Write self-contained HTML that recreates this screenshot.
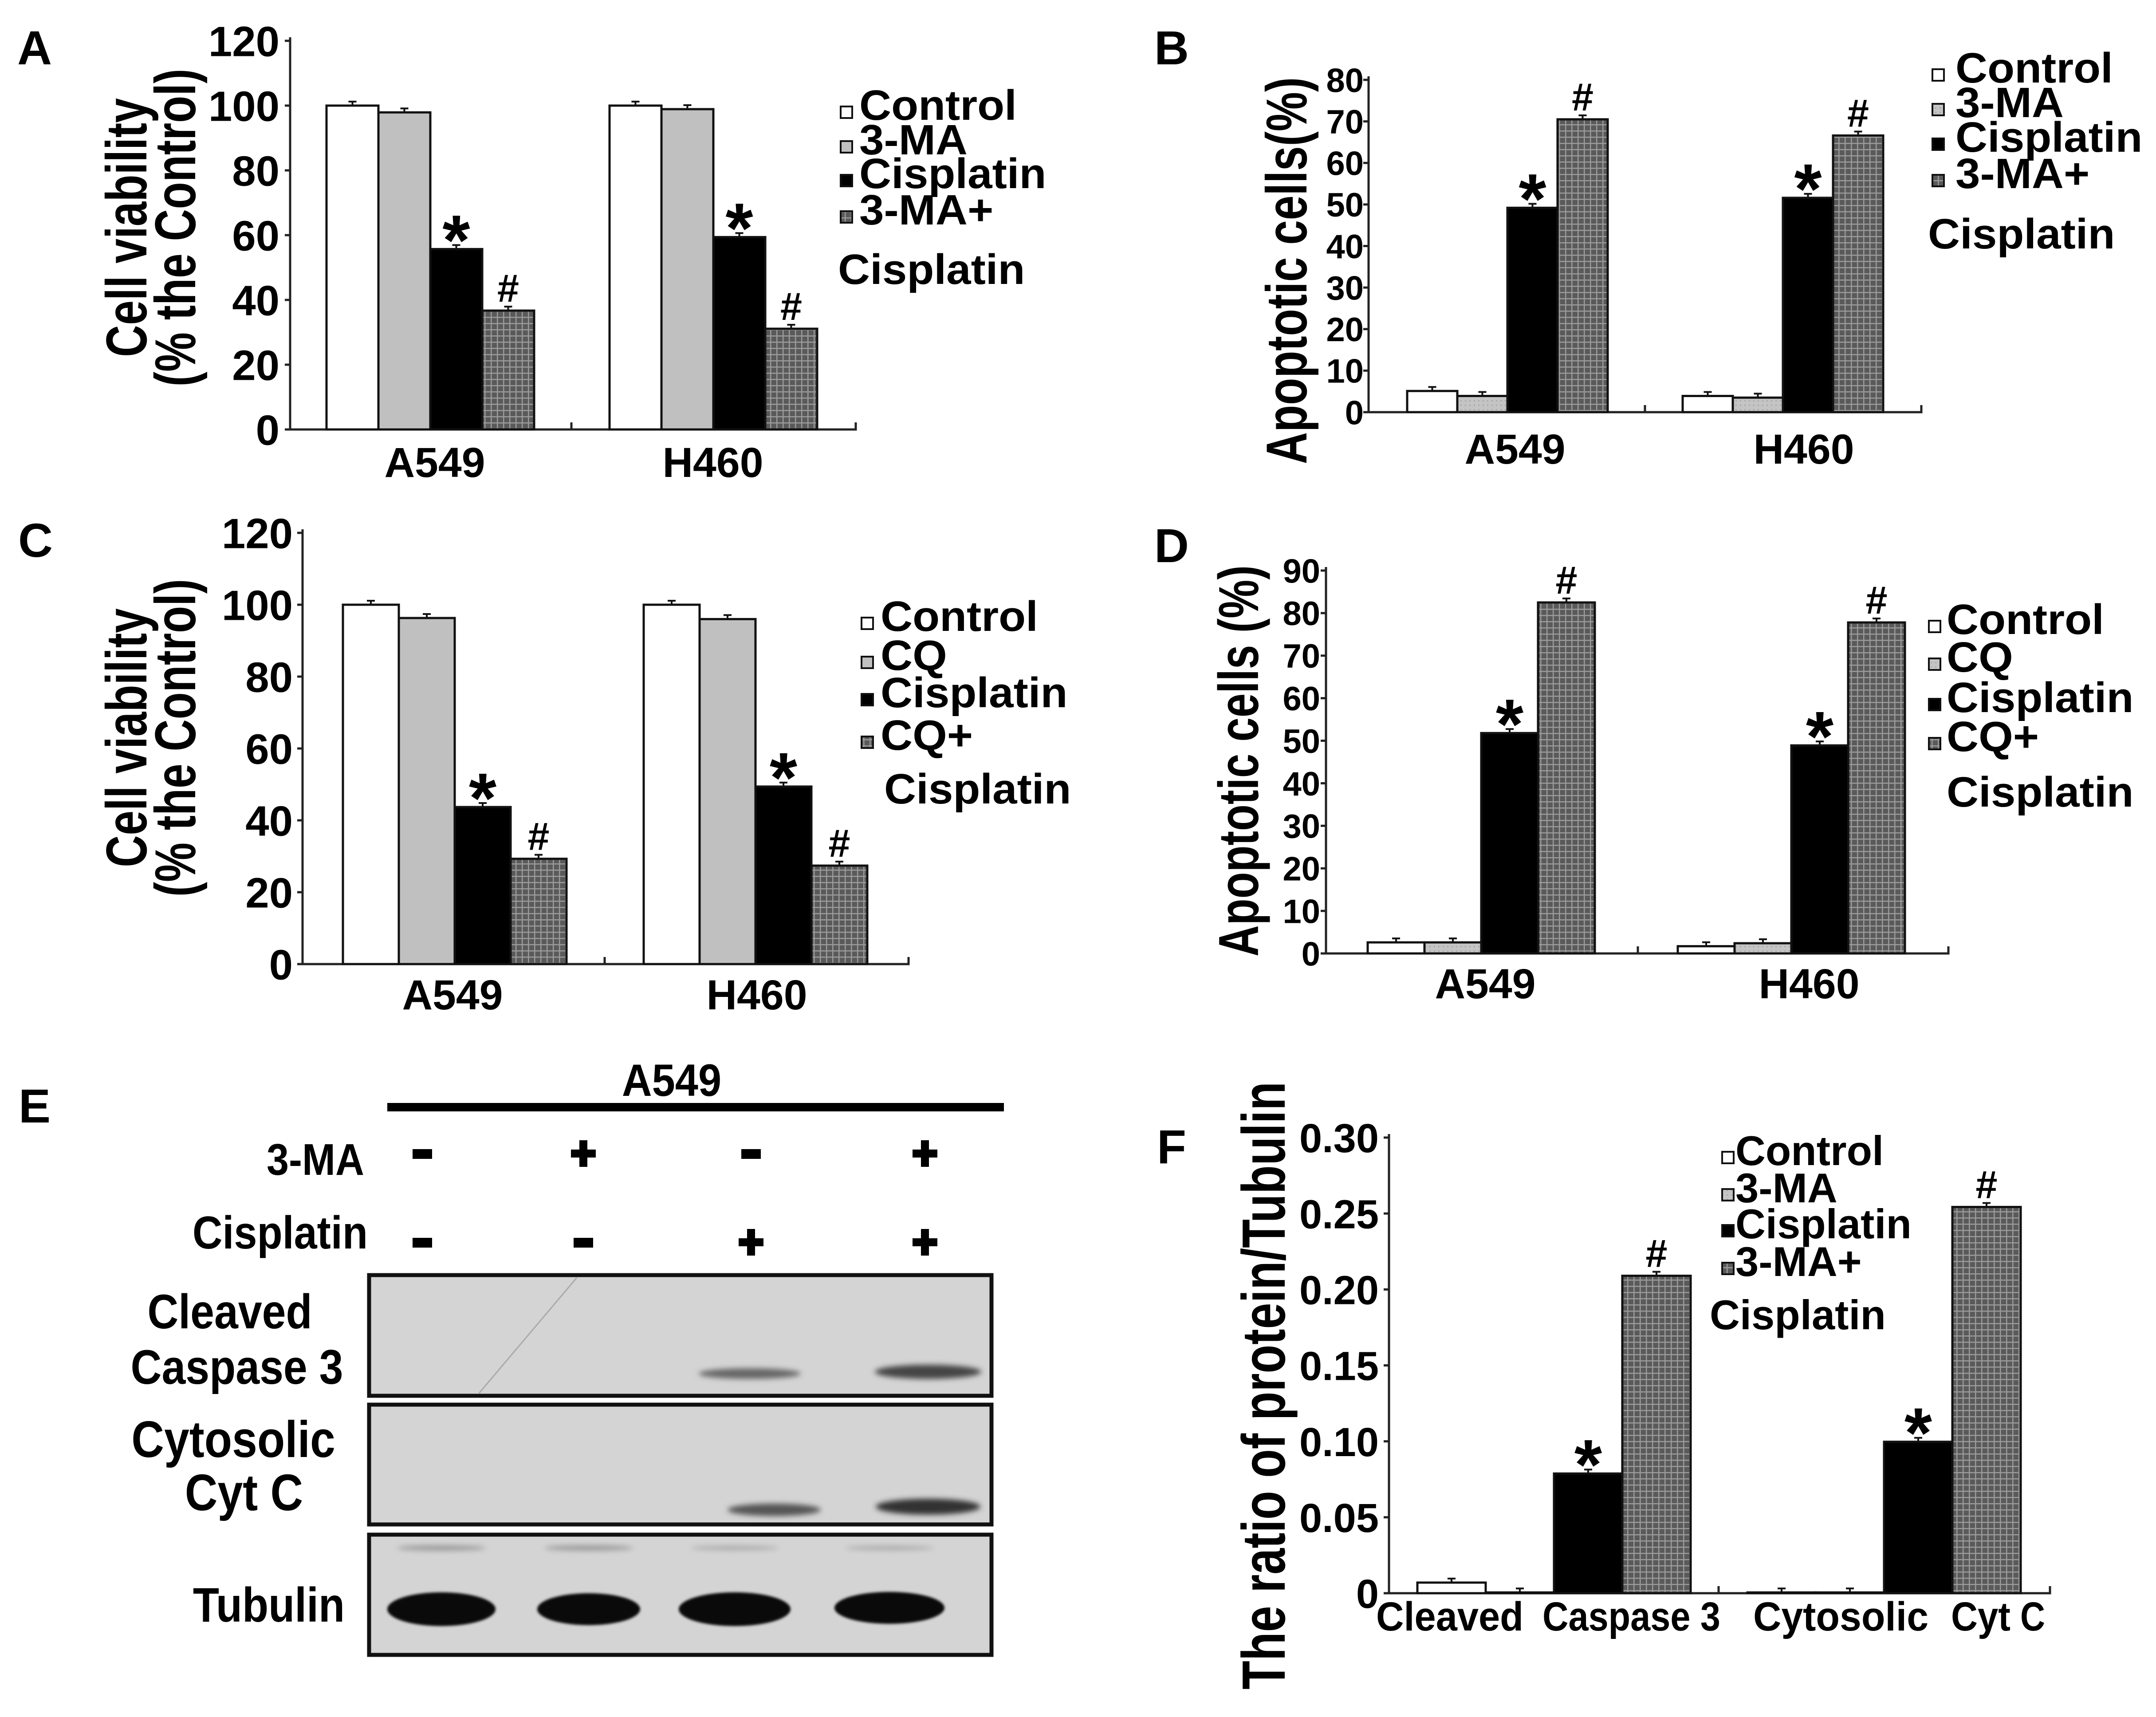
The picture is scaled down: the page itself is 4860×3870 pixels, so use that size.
<!DOCTYPE html>
<html><head><meta charset="utf-8"><style>
html,body{margin:0;padding:0;background:#fff;}
svg{display:block;font-family:"Liberation Sans",Arial,sans-serif;font-weight:bold;}
</style></head><body>
<svg id="fig" xmlns="http://www.w3.org/2000/svg" width="4860" height="3870" viewBox="0 0 4860 3870">
<defs>
<pattern id="grid" width="14" height="14" patternUnits="userSpaceOnUse"><rect width="14" height="14" fill="#5a5a5a"/><path d="M0 1H14M1 0V14" stroke="#9c9c9c" stroke-width="3"/></pattern>
<pattern id="dots" width="10" height="10" patternUnits="userSpaceOnUse"><rect width="10" height="10" fill="#c4c4c4"/><rect x="2" y="2" width="3" height="3" fill="#a8a8a8"/></pattern>
<filter id="blur" x="-20%" y="-100%" width="140%" height="300%"><feGaussianBlur stdDeviation="6"/></filter>
</defs>
<rect width="4860" height="3870" fill="#fff"/>
<g id="blot">
<rect x="832" y="2874" width="1403" height="272" fill="#d4d4d4" stroke="#111" stroke-width="9"/>
<line x1="1300" y1="2880" x2="1080" y2="3140" stroke="#aaa" stroke-width="3"/>
<rect x="832" y="3166" width="1403" height="270" fill="#d4d4d4" stroke="#111" stroke-width="9"/>
<rect x="832" y="3459" width="1403" height="271" fill="#d4d4d4" stroke="#111" stroke-width="9"/>
<g filter="url(#blur)">
<ellipse cx="1690" cy="3096" rx="115" ry="12" fill="#666"/>
<ellipse cx="2092" cy="3092" rx="120" ry="16" fill="#444"/>
<ellipse cx="1745" cy="3403" rx="105" ry="14" fill="#555"/>
<ellipse cx="2092" cy="3396" rx="118" ry="18" fill="#333"/>
<ellipse cx="995" cy="3489" rx="100" ry="6" fill="#999"/>
<ellipse cx="1327" cy="3489" rx="100" ry="6" fill="#999"/>
<ellipse cx="1656" cy="3489" rx="100" ry="5" fill="#aaa"/>
<ellipse cx="2005" cy="3489" rx="100" ry="5" fill="#aaa"/>
</g>
<g style="filter:blur(3px)">
<ellipse cx="995" cy="3627" rx="122" ry="38" fill="#0a0a0a"/>
<ellipse cx="1327" cy="3627" rx="116" ry="36" fill="#0a0a0a"/>
<ellipse cx="1656" cy="3627" rx="126" ry="38" fill="#0a0a0a"/>
<ellipse cx="2005" cy="3624" rx="124" ry="36" fill="#0a0a0a"/>
</g>
<rect x="873" y="2486" width="1390" height="19" fill="#000"/>
</g>
</svg>
<script>
// ---- data ----
const cellLines = ["A549", "H460"];
const seriesA = ["Control", "3-MA", "Cisplatin", "3-MA+"];
const seriesC = ["Control", "CQ", "Cisplatin", "CQ+"];
const aControl = [100, 100];
const aMA = [97.9, 98.9];
const aCis = [55.7, 59.4];
const aCombo = [36.7, 31.1];
const bControl = [5.1, 3.9];
const bMA = [3.9, 3.5];
const bCis = [49.2, 51.6];
const bCombo = [70.5, 66.6];
const cControl = [100, 100];
const cCQ = [96.3, 96.0];
const cCis = [43.7, 49.4];
const cCombo = [29.3, 27.4];
const dControl = [2.6, 1.7];
const dCQ = [2.6, 2.4];
const dCis = [51.8, 48.9];
const dCombo = [82.5, 77.8];
const fCats = ["Cleaved Caspase 3", "Cytosolic Cyt C"];
const fControl = [0.007, 0.0005];
const fMA = [0.0005, 0.0005];
const fCis = [0.0788, 0.0997];
const fCombo = [0.209, 0.2543];
const ticksA = ["0","20","40","60","80","100","120"];
const ticksB = ["0","10","20","30","40","50","60","70","80"];
const ticksD = ["0","10","20","30","40","50","60","70","80","90"];
const ticksF = ["0","0.05","0.10","0.15","0.20","0.25","0.30"];
const tickValsA = [0,20,40,60,80,100,120];
const tickValsB = [0,10,20,30,40,50,60,70,80];
const tickValsD = [0,10,20,30,40,50,60,70,80,90];
const tickValsF = [0,0.05,0.10,0.15,0.20,0.25,0.30];

const NS = "http://www.w3.org/2000/svg";
const svg = document.getElementById("fig");
const SX = 1.0;

function mk(tag, attrs, parent) {
  const e = document.createElementNS(NS, tag);
  for (const k in attrs) e.setAttribute(k, attrs[k]);
  (parent || svg).appendChild(e);
  return e;
}
function txt(parent, x, y, s, size, anchor, rot, sx, len) {
  const t = document.createElementNS(NS, "text");
  t.setAttribute("transform", "translate(" + x + "," + y + ") scale(" + (sx || SX) + ",1)" + (rot ? " rotate(" + rot + ")" : ""));
  t.setAttribute("font-size", size);
  t.setAttribute("text-anchor", anchor || "start");
  if (len) { t.setAttribute("textLength", len); t.setAttribute("lengthAdjust", "spacingAndGlyphs"); }
  t.textContent = s;
  parent.appendChild(t);
  return t;
}

function chart(cfg) {
  const g = mk("g", {});
  
  
  const yS = v => cfg.y0 - (v / cfg.yMax) * (cfg.y0 - cfg.yTop);
  const ax = mk("path", {d: "M" + cfg.ax + " " + (cfg.yTop - 8) + "V" + cfg.y0 + "H" + cfg.xEnd + "V" + (cfg.y0 - 16) + "M" + cfg.mid + " " + cfg.y0 + "V" + (cfg.y0 - 16), stroke: "#222", "stroke-width": 5, fill: "none"}, g);
  
  
  cfg.tickVals.forEach((v, i) => {
    const y = yS(v);
    const tk = mk("line", {x1: cfg.ax - 12, x2: cfg.ax, y1: y, y2: y, stroke: "#222", "stroke-width": 5}, g);
    
    
    const tl = txt(g, cfg.tickRight, y + 0.36 * cfg.tickFont, cfg.ticks[i], cfg.tickFont, "end");
    
    
  });
  const fills = ["#fff", cfg.mafill, "#000", "url(#grid)"];
  const names = ["control", "treatment", "cisplatin", "combination"];
  cfg.series.forEach((vals, s) => {
    vals.forEach((v, c) => {
      const x = cfg.groups[c] + s * cfg.bw;
      const top = yS(v);
      const r = mk("rect", {x: x, y: top, width: cfg.bw, height: Math.max(cfg.y0 - top, 1), fill: fills[s], stroke: "#111", "stroke-width": 5}, g);
      
      
      const eb = mk("path", {d: "M" + (x + cfg.bw / 2) + " " + top + "v-9m-9 0h18", stroke: "#111", "stroke-width": 4, fill: "none"}, g);
      
      
      if (s === 2) {
        const st = txt(g, x + cfg.bw / 2, top + 35, "*", 160, "middle");
        
        
      }
      if (s === 3) {
        const h = txt(g, x + cfg.bw / 2, top - 20, "#", 88, "middle");
        
        
      }
    });
  });
  cfg.catLabels.forEach(cl => {
    const t = txt(g, cl[1], cl[2], cl[0], cl[3] || 95, cl[4] || "middle", 0, 1, cl[5]);
    
    
  });
  cfg.yTitles.forEach(yt => {
    const t = txt(g, yt[1], yt[2], yt[0], yt[3], "middle", -90, 1.3);
    
    
  });
  const lg = mk("g", {}, g);
  
  
  cfg.legend.rows.forEach((ry, i) => {
    const sq = mk("rect", {x: cfg.legend.sqx, y: ry - 30, width: 26, height: 26, fill: fills[i], stroke: "#111", "stroke-width": 4}, lg);
    
    
    const t = txt(lg, cfg.legend.tx, ry, cfg.legend.labels[i], cfg.legend.font, "start", 0, cfg.legend.sx);
    
    
  });
  const t2 = txt(lg, cfg.legend.cx, cfg.legend.cy, "Cisplatin", cfg.legend.font, "start", 0, cfg.legend.sx);
  
  
  const pl = txt(g, cfg.letter[1], cfg.letter[2], cfg.letter[0], 108, "middle");
  
  
}

chart({name: "panel-a-chart", ax: 654, y0: 968, yTop: 92, yMax: 120, xEnd: 1929, mid: 1288, groups: [736, 1374], bw: 117,
  tickVals: tickValsA, ticks: ticksA, tickFont: 96, tickRight: 630, mafill: "#c0c0c0",
  series: [aControl, aMA, aCis, aCombo],
  catLabels: [[cellLines[0], 980, 1075], [cellLines[1], 1607, 1075]],
  yTitles: [["Cell viability", 330, 513, 100], ["(% the Control)", 440, 513, 100]],
  legend: {sqx: 1895, tx: 1937, rows: [270, 348, 424, 506], labels: seriesA, font: 96, sx: 1.04, cx: 1889, cy: 640},
  letter: ["A", 78, 145]});

chart({name: "panel-b-chart", ax: 3085, y0: 929, yTop: 180, yMax: 80, xEnd: 4331, mid: 3708, groups: [3172, 3793], bw: 113,
  tickVals: tickValsB, ticks: ticksB, tickFont: 76, tickRight: 3074, mafill: "url(#dots)",
  series: [bControl, bMA, bCis, bCombo],
  catLabels: [[cellLines[0], 3415, 1045], [cellLines[1], 4066, 1045]],
  yTitles: [["Apoptotic cells(%)", 2945, 610, 100]],
  legend: {sqx: 4356, tx: 4408, rows: [186, 264, 342, 424], labels: seriesA, font: 96, sx: 1.04, cx: 4346, cy: 560},
  letter: ["B", 2641, 145]});

chart({name: "panel-c-chart", ax: 682, y0: 2173, yTop: 1201, yMax: 120, xEnd: 2048, mid: 1363, groups: [773, 1451], bw: 126,
  tickVals: tickValsA, ticks: ticksA, tickFont: 96, tickRight: 660, mafill: "#c0c0c0",
  series: [cControl, cCQ, cCis, cCombo],
  catLabels: [[cellLines[0], 1020, 2275], [cellLines[1], 1706, 2275]],
  yTitles: [["Cell viability", 330, 1663, 100], ["(% the Control)", 440, 1663, 100]],
  legend: {sqx: 1942, tx: 1985, rows: [1422, 1510, 1594, 1690], labels: seriesC, font: 96, sx: 1.04, cx: 1993, cy: 1811},
  letter: ["C", 80, 1255]});

chart({name: "panel-d-chart", ax: 2989, y0: 2149, yTop: 1286, yMax: 90, xEnd: 4392, mid: 3692, groups: [3083, 3782], bw: 128,
  tickVals: tickValsD, ticks: ticksD, tickFont: 76, tickRight: 2976, mafill: "url(#dots)",
  series: [dControl, dCQ, dCis, dCombo],
  catLabels: [[cellLines[0], 3348, 2250], [cellLines[1], 4078, 2250]],
  yTitles: [["Apoptotic cells (%)", 2836, 1715, 98]],
  legend: {sqx: 4348, tx: 4388, rows: [1429, 1514, 1605, 1693], labels: seriesC, font: 96, sx: 1.04, cx: 4388, cy: 1818},
  letter: ["D", 2641, 1267]});

chart({name: "panel-f-chart", ax: 3131, y0: 3591, yTop: 2564, yMax: 0.3, xEnd: 4621, mid: 3874, groups: [3195, 3939], bw: 154,
  tickVals: tickValsF, ticks: ticksF, tickFont: 92, tickRight: 3108, mafill: "url(#dots)",
  series: [fControl, fMA, fCis, fCombo],
  catLabels: [["Cleaved", 3102, 3675, 92, "start", 332], ["Caspase 3", 3477, 3675, 92, "start", 401], ["Cytosolic", 3952, 3675, 92, "start", 395], ["Cyt", 4398, 3675, 92, "start", 134], ["C", 4554, 3675, 92, "start", 56]],
  yTitles: [["The ratio of protein/Tubulin", 2896, 3123, 106]],
  legend: {sqx: 3882, tx: 3912, rows: [2626, 2710, 2791, 2876], labels: seriesA, font: 94, sx: 1.0, cx: 3854, cy: 2996},
  letter: ["F", 2641, 2622]});

const eg = document.createElementNS(NS, "g");


svg.appendChild(eg);
const eLabels = [["E", 78, 2530, 108, "middle", 1], ["A549", 1514, 2470, 102, "middle", 0.92], ["3-MA", 821, 2648, 100, "end", 0.9], ["Cisplatin", 829, 2814, 104, "end", 0.9],
  ["Cleaved", 518, 2994, 110, "middle", 0.88], ["Caspase 3", 534, 3119, 110, "middle", 0.88], ["Cytosolic", 526, 3284, 116, "middle", 0.88], ["Cyt C", 550, 3404, 116, "middle", 0.88], ["Tubulin", 606, 3655, 110, "middle", 0.88]];
eLabels.forEach(l => {
  const t = txt(eg, l[1], l[2], l[0], l[3], l[4], 0, l[5]);
  
  
});
const lanes = [952, 1315, 1693, 2085];
const maSigns = ["-", "+", "-", "+"];
const cisSigns = ["-", "-", "+", "+"];
lanes.forEach((x, i) => {
  [[maSigns[i], 2600], [cisSigns[i], 2800]].forEach(p => {
    let el;
    if (p[0] === "-") el = mk("rect", {x: x - 22, y: p[1] - 10, width: 44, height: 22, fill: "#000"}, eg);
    else el = mk("path", {d: "M" + (x - 28) + " " + p[1] + "h56M" + x + " " + (p[1] - 30) + "v60", stroke: "#000", "stroke-width": 18, fill: "none"}, eg);
    
    
  });
});
</script>
</body></html>
